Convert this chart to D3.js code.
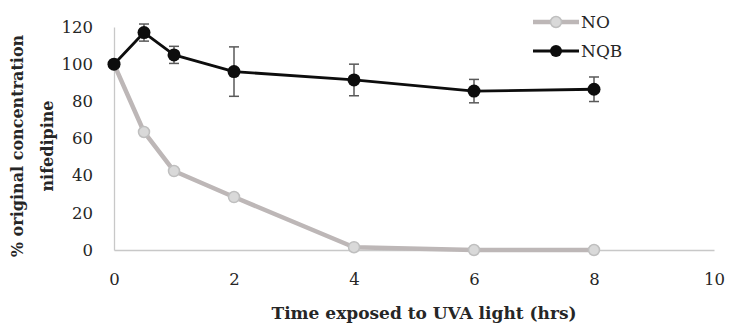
<!DOCTYPE html>
<html>
<head>
<meta charset="utf-8">
<script src="https://cdn.jsdelivr.net/npm/d3@7"></script>
<style>
  html, body { margin: 0; padding: 0; background: #fff; }
  svg { display: block; }
  text { font-family: "Palatino Linotype", "Book Antiqua", Palatino, "DejaVu Serif", serif; fill: #262626; }
</style>
</head>
<body>
<svg id="chart" width="734" height="323"></svg>
<script>
// Time points (hrs) and % original nifedipine concentration
const hours    = [0, 0.5, 1, 2, 4, 6, 8];
const noValues = [100, 63.5, 42.5, 28.5, 1.5, 0, 0];
const nqbValues = [100, 117, 105, 96, 91.5, 85.5, 86.5];
const nqbError  = [0, 4.6, 4.6, 13.3, 8.5, 6.3, 6.6];
const xTicks = [0, 2, 4, 6, 8, 10];
const yTicks = [0, 20, 40, 60, 80, 100, 120];
const seriesNames = ["NO", "NQB"];

const fontStack = "'Palatino Linotype', 'Book Antiqua', Palatino, 'DejaVu Serif', serif";
const svg = d3.select("#chart");
const plot = { left: 114, right: 714, top: 27, bottom: 250 };

const x = d3.scaleLinear().domain([0, 10]).range([plot.left, plot.right]);
const y = d3.scaleLinear().domain([0, 120]).range([plot.bottom, plot.top]);

// Axes: light gray lines, no tick marks
const xAxis = svg.append("g")
  .attr("transform", `translate(0,${plot.bottom})`)
  .call(d3.axisBottom(x).tickValues(xTicks).tickSize(0).tickPadding(23));
const yAxis = svg.append("g")
  .attr("transform", `translate(${plot.left},0)`)
  .call(d3.axisLeft(y).tickValues(yTicks).tickSize(0).tickPadding(21));
[xAxis, yAxis].forEach(g => {
  g.select(".domain").attr("stroke", "#c8c8c8").attr("stroke-width", 1.3);
  g.selectAll("text").style("font-size", "16.5px").attr("fill", "#262626")
    .style("font-family", fontStack);
});

// Axis titles
svg.append("text")
  .attr("x", 424).attr("y", 319)
  .attr("text-anchor", "middle")
  .style("font-size", "17px").style("font-weight", "bold")
  .text("Time exposed to UVA light (hrs)");

const yTitle = svg.append("text")
  .attr("transform", "translate(0,146) rotate(-90)")
  .attr("text-anchor", "middle")
  .style("font-size", "16px").style("font-weight", "bold");
yTitle.append("tspan").attr("x", 0).attr("y", 23).text("% original concentration");
yTitle.append("tspan").attr("x", 0).attr("y", 53).text("nifedipine");

const line = d3.line().x(d => x(d[0])).y(d => y(d[1]));

// NO series (light gray)
const noData = hours.map((h, i) => [h, noValues[i]]);
svg.append("path").datum(noData)
  .attr("d", line).attr("fill", "none")
  .attr("stroke", "#bdb7b7").attr("stroke-width", 4.5)
  .attr("stroke-linejoin", "round");
svg.selectAll(".noPt").data(noData).join("circle")
  .attr("cx", d => x(d[0])).attr("cy", d => y(d[1])).attr("r", 5.5)
  .attr("fill", "#d9d9d9").attr("stroke", "#bfbfbf").attr("stroke-width", 1.5);

// NQB series (black) with error bars
const nqbData = hours.map((h, i) => ({ h, v: nqbValues[i], e: nqbError[i] }));
const errG = svg.append("g").attr("stroke", "#595959").attr("stroke-width", 1.5);
nqbData.filter(d => d.e > 0).forEach(d => {
  const cx = x(d.h), y0 = y(d.v - d.e), y1 = y(d.v + d.e);
  errG.append("line").attr("x1", cx).attr("x2", cx).attr("y1", y0).attr("y2", y1);
  errG.append("line").attr("x1", cx - 5).attr("x2", cx + 5).attr("y1", y0).attr("y2", y0);
  errG.append("line").attr("x1", cx - 5).attr("x2", cx + 5).attr("y1", y1).attr("y2", y1);
});
svg.append("path").datum(nqbData.map(d => [d.h, d.v]))
  .attr("d", line).attr("fill", "none")
  .attr("stroke", "#0d0d0d").attr("stroke-width", 2.8)
  .attr("stroke-linejoin", "round");
svg.selectAll(".nqbPt").data(nqbData).join("circle")
  .attr("cx", d => x(d.h)).attr("cy", d => y(d.v)).attr("r", 6.5)
  .attr("fill", "#0d0d0d");

// Legend
const legend = svg.append("g");
const legendStyles = [
  { stroke: "#bdb7b7", width: 4.5, fill: "#d9d9d9", mstroke: "#bfbfbf", r: 5.5 },
  { stroke: "#0d0d0d", width: 2.8, fill: "#0d0d0d", mstroke: "none", r: 6 }
];
seriesNames.forEach((name, i) => {
  const ly = 22 + i * 29, s = legendStyles[i];
  legend.append("line").attr("x1", 533).attr("x2", 579).attr("y1", ly).attr("y2", ly)
    .attr("stroke", s.stroke).attr("stroke-width", s.width);
  legend.append("circle").attr("cx", 556).attr("cy", ly).attr("r", s.r)
    .attr("fill", s.fill).attr("stroke", s.mstroke).attr("stroke-width", 1.5);
  legend.append("text").attr("x", 581).attr("y", ly + 6)
    .style("font-size", "17px").text(name);
});
</script>
</body>
</html>
